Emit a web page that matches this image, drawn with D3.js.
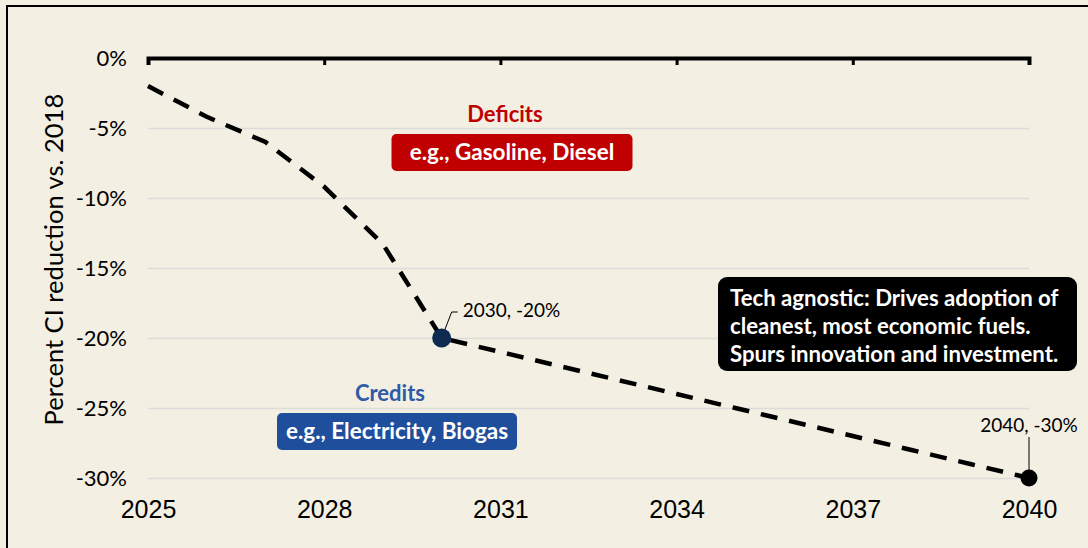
<!DOCTYPE html>
<html>
<head>
<meta charset="utf-8">
<script src="https://cdn.jsdelivr.net/npm/d3@7"></script>
<style>
  body { margin: 0; background: #f3efe2; }
  svg { display: block; }
</style>
</head>
<body>
<div class="ciChart"></div>
<script>
// data
var years = [2025, 2026, 2027, 2028, 2029, 2030, 2031, 2032, 2033, 2034, 2035, 2036, 2037, 2038, 2039, 2040];
var reduction = [-2, -4.2, -6, -9.2, -13.3, -20, -21, -22, -23, -24, -25, -26, -27, -28, -29, -30];
var xTicks = [2025, 2028, 2031, 2034, 2037, 2040];
var yTicks = [0, -5, -10, -15, -20, -25, -30];
var marked = [{year: 2030, value: -20, label: "2030, -20%"}, {year: 2040, value: -30, label: "2040, -30%"}];
var techLines = ["Tech agnostic: Drives adoption of", "cleanest, most economic fuels.", "Spurs innovation and investment."];

var W = 1088, H = 548;
var margin = {top: 58, right: 59, bottom: 70, left: 148},
    width = W - margin.left - margin.right,
    height = H - margin.top - margin.bottom;

var svg = d3.select(".ciChart")
  .append("svg")
    .attr("width", W)
    .attr("height", H);

// frame (left + top edge only show in the crop)
svg.append("rect").attr("x", 0).attr("y", 0).attr("width", W).attr("height", H).attr("fill", "#f3efe2");
svg.append("path")
  .attr("d", "M7," + H + "V6H" + W)
  .attr("fill", "none")
  .attr("stroke", "#000")
  .attr("stroke-width", 2);

var g = svg.append("g")
  .attr("transform", "translate(" + margin.left + "," + margin.top + ")");

var x = d3.scaleLinear().domain([2025, 2040]).range([0, width]);
var y = d3.scaleLinear().domain([-30, 0]).range([height, 0]);

// y gridlines + labels
var yAxis = g.append("g")
  .call(d3.axisLeft(y).tickValues(yTicks).tickSize(-width).tickPadding(21)
    .tickFormat(function(d) { return d + "%"; }));
yAxis.select(".domain").remove();
yAxis.selectAll("line")
  .attr("stroke", function(d) { return d === 0 ? "none" : "#dcdcda"; })
  .attr("stroke-width", 1.5);
yAxis.selectAll("text")
  .attr("font-family", "Lato, sans-serif")
  .attr("font-size", "22px")
  .attr("fill", "#000");

// top axis line at 0%
var topAxis = g.append("g")
  .call(d3.axisBottom(x).tickValues(xTicks).tickSize(7).tickSizeOuter(7).tickFormat(""));
topAxis.select(".domain").attr("stroke-width", 4);
topAxis.selectAll("line").attr("stroke-width", 3);

// year labels under the plot
var xAxis = g.append("g")
  .attr("transform", "translate(0," + height + ")")
  .call(d3.axisBottom(x).tickValues(xTicks).tickSize(0).tickPadding(22).tickFormat(d3.format("d")));
xAxis.select(".domain").remove();
xAxis.selectAll("text")
  .attr("font-family", "'Liberation Sans', Arial, sans-serif")
  .attr("font-size", "25px")
  .attr("fill", "#000");

// y title
g.append("text")
  .attr("transform", "rotate(-90)")
  .attr("x", -y(-14.4))
  .attr("y", -85)
  .attr("text-anchor", "middle")
  .attr("font-family", "Lato, sans-serif")
  .attr("font-size", "25.5px")
  .text("Percent CI reduction vs. 2018");

// dashed trajectory
var line = d3.line()
  .x(function(d, i) { return x(years[i]); })
  .y(function(d) { return y(d); });
g.append("path")
  .datum(reduction)
  .attr("d", line)
  .attr("fill", "none")
  .attr("stroke", "#000")
  .attr("stroke-width", 4.5)
  .attr("stroke-dasharray", "17,12");

// deficits / credits annotations
function tagBox(label, boxText, color, labelColor, cx, labelY, boxY, boxW) {
  g.append("text")
    .attr("x", cx - 7)
    .attr("y", labelY)
    .attr("text-anchor", "middle")
    .attr("font-family", "Lato, sans-serif")
    .attr("font-weight", 700)
    .attr("font-size", "22px")
    .attr("fill", labelColor)
    .text(label);
  g.append("rect")
    .attr("x", cx - boxW / 2)
    .attr("y", boxY)
    .attr("width", boxW)
    .attr("height", 37)
    .attr("rx", 5)
    .attr("fill", color);
  g.append("text")
    .attr("x", cx)
    .attr("y", boxY + 26)
    .attr("text-anchor", "middle")
    .attr("font-family", "Lato, sans-serif")
    .attr("font-weight", 700)
    .attr("font-size", "22.5px")
    .attr("fill", "#fff")
    .text(boxText);
}
tagBox("Deficits", "e.g., Gasoline, Diesel", "#c00000", "#c00000", 512 - margin.left, 122 - margin.top, 134 - margin.top, 241);
tagBox("Credits", "e.g., Electricity, Biogas", "#1f4e9c", "#2e5aa8", 390 - margin.left + 7, 401 - margin.top, 413 - margin.top, 240);

// tech agnostic box
var tb = g.append("g").attr("transform", "translate(" + (718 - margin.left) + "," + (277 - margin.top) + ")");
tb.append("rect")
  .attr("width", 359)
  .attr("height", 94)
  .attr("rx", 9)
  .attr("fill", "#000");
tb.selectAll("text")
  .data(techLines)
  .enter()
  .append("text")
    .attr("x", 12)
    .attr("y", function(d, i) { return 29 + i * 28; })
    .attr("font-family", "Lato, sans-serif")
    .attr("font-weight", 700)
    .attr("font-size", "22.2px")
    .attr("fill", "#fff")
    .text(function(d) { return d; });

// marked points
var p0 = marked[0], p1 = marked[1];
g.append("path")
  .attr("d", "M" + x(p0.year) + "," + y(p0.value) + "L" + (x(p0.year) + 10) + "," + (y(p0.value) - 26) + "h6")
  .attr("fill", "none")
  .attr("stroke", "#000")
  .attr("stroke-width", 1);
g.append("circle")
  .attr("cx", x(p0.year))
  .attr("cy", y(p0.value))
  .attr("r", 9.5)
  .attr("fill", "#0e2a50");
g.append("text")
  .attr("x", x(p0.year) + 21)
  .attr("y", y(p0.value) - 21)
  .attr("font-family", "Lato, sans-serif")
  .attr("font-size", "19px")
  .attr("fill", "#000")
  .text(p0.label);

g.append("line")
  .attr("x1", x(p1.year)).attr("x2", x(p1.year))
  .attr("y1", y(p1.value) - 41).attr("y2", y(p1.value))
  .attr("stroke", "#000")
  .attr("stroke-width", 1);
g.append("circle")
  .attr("cx", x(p1.year))
  .attr("cy", y(p1.value))
  .attr("r", 8.5)
  .attr("fill", "#000");
g.append("text")
  .attr("x", x(p1.year))
  .attr("y", y(p1.value) - 46)
  .attr("text-anchor", "middle")
  .attr("font-family", "Lato, sans-serif")
  .attr("font-size", "19px")
  .attr("fill", "#000")
  .text(p1.label);
</script>
</body>
</html>
